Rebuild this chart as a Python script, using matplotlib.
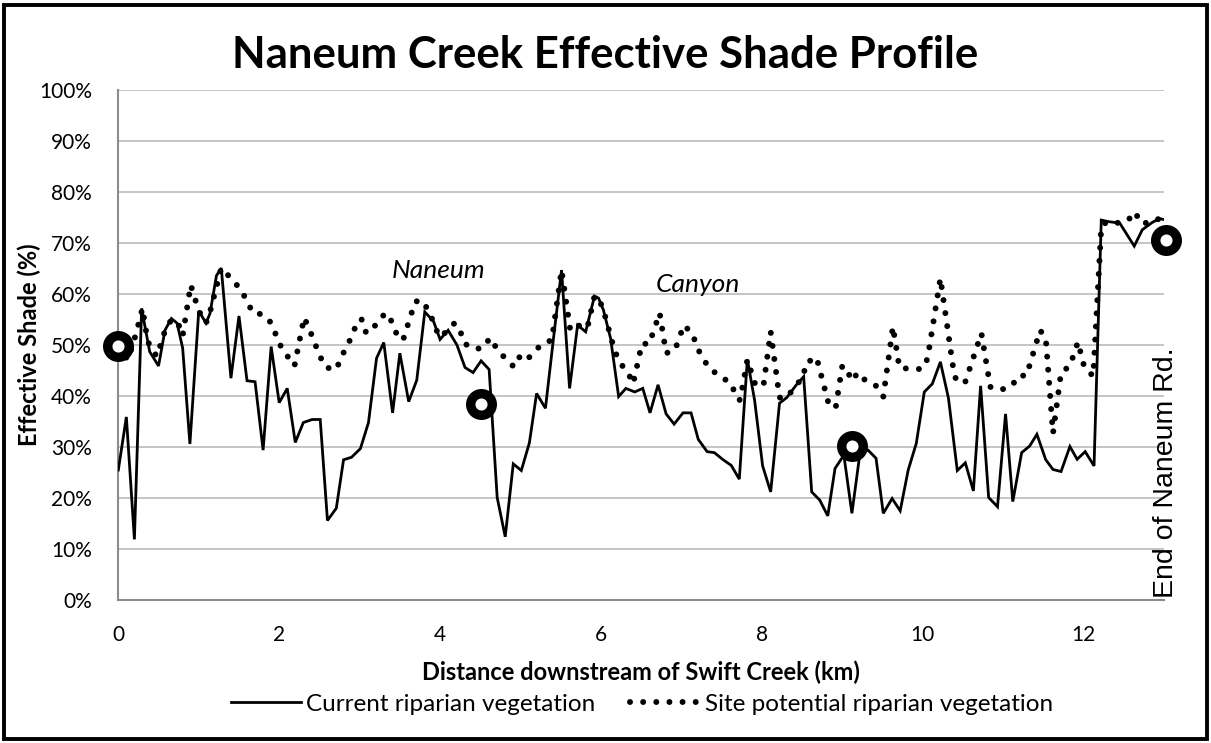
import numpy as np
import matplotlib.pyplot as plt
import matplotlib.patches as mpatches

# fonts: Lato is the closest installed match to the Calibri look
plt.rcParams['font.family'] = ['Lato', 'DejaVu Sans']

# current riparian vegetation (solid line), km downstream / effective shade %
cur_km = [0.00, 0.10, 0.20, 0.29, 0.32, 0.39, 0.50, 0.58, 0.66, 0.73, 0.80, 0.89, 1.00, 1.09, 1.14,
          1.22, 1.28, 1.40, 1.50, 1.60, 1.70, 1.80, 1.90, 2.00, 2.10, 2.20, 2.30, 2.41, 2.51, 2.60,
          2.71, 2.80, 2.90, 3.01, 3.11, 3.21, 3.30, 3.41, 3.50, 3.61, 3.71, 3.81, 3.92, 4.00, 4.10,
          4.21, 4.31, 4.41, 4.51, 4.61, 4.71, 4.81, 4.91, 5.01, 5.11, 5.20, 5.31, 5.41, 5.51, 5.61,
          5.71, 5.81, 5.92, 5.97, 6.03, 6.12, 6.22, 6.31, 6.42, 6.52, 6.61, 6.71, 6.81, 6.91, 7.02,
          7.12, 7.21, 7.32, 7.41, 7.52, 7.62, 7.72, 7.82, 7.91, 8.01, 8.11, 8.22, 8.31, 8.42, 8.52,
          8.62, 8.72, 8.82, 8.91, 9.02, 9.12, 9.22, 9.32, 9.42, 9.51, 9.62, 9.72, 9.82, 9.92, 10.02,
          10.12, 10.22, 10.32, 10.43, 10.53, 10.63, 10.72, 10.82, 10.93, 11.03, 11.12, 11.23, 11.33,
          11.42, 11.53, 11.62, 11.72, 11.83, 11.92, 12.02, 12.13, 12.22, 12.31, 12.45, 12.63, 12.73,
          12.85, 12.94, 13.00]
cur_pct = [25.4, 35.8, 11.8, 57.1, 54.5, 48.6, 45.8, 52.8, 55.1, 54.2, 49.3, 30.5, 56.6, 54.2, 56.1,
           63.5, 65.0, 43.4, 55.6, 42.9, 42.7, 29.3, 49.6, 38.6, 41.4, 30.8, 34.7, 35.3, 35.3, 15.5,
           17.9, 27.4, 27.9, 29.6, 34.7, 47.3, 50.4, 36.6, 48.3, 38.8, 43.0, 56.4, 54.5, 51.0, 52.8,
           49.9, 45.5, 44.5, 46.8, 45.1, 20.0, 12.3, 26.6, 25.3, 30.7, 40.4, 37.5, 51.2, 64.6, 41.4,
           53.8, 52.5, 59.5, 59.1, 56.8, 51.2, 39.8, 41.4, 40.7, 41.4, 36.6, 42.1, 36.4, 34.4, 36.6,
           36.6, 31.4, 29.0, 28.8, 27.4, 26.3, 23.6, 47.1, 39.1, 26.2, 21.1, 38.5, 39.6, 41.9, 43.7,
           21.1, 19.5, 16.4, 25.7, 28.3, 16.9, 28.7, 29.3, 27.7, 16.9, 19.8, 17.4, 25.4, 30.6, 40.7,
           42.3, 46.6, 39.5, 25.3, 26.8, 21.3, 41.9, 20.0, 18.2, 36.4, 19.2, 28.8, 30.1,
           32.4, 27.4, 25.5, 25.1, 30.0, 27.5, 29.0, 26.2, 74.4, 74.1, 73.8, 69.3, 72.5,
           73.9, 74.7, 74.5]

# site potential riparian vegetation (dotted line)
pot_km = [0.00, 0.12, 0.22, 0.30, 0.35, 0.39, 0.48, 0.58, 0.66, 0.74, 0.80, 0.90, 1.00, 1.09, 1.13,
          1.28, 1.40, 1.51, 1.60, 1.67, 1.76, 1.87, 1.94, 2.00, 2.09, 2.19, 2.31, 2.38, 2.44, 2.50,
          2.58, 2.71, 2.77, 2.85, 2.92, 2.97, 3.03, 3.08, 3.15, 3.24, 3.33, 3.42, 3.47, 3.54, 3.69,
          3.77, 3.86, 3.99, 4.08, 4.18, 4.25, 4.30, 4.44, 4.54, 4.62, 4.71, 4.82, 4.92, 5.00, 5.08,
          5.15, 5.25, 5.39, 5.51, 5.62, 5.73, 5.83, 5.92, 5.97, 6.03, 6.17, 6.24, 6.33, 6.40, 6.51,
          6.60, 6.73, 6.81, 6.92, 7.03, 7.14, 7.19, 7.27, 7.36, 7.50, 7.63, 7.68, 7.73, 7.82, 7.92,
          8.02, 8.11, 8.22, 8.31, 8.42, 8.52, 8.54, 8.68, 8.84, 8.92, 9.00, 9.06, 9.11, 9.20, 9.29,
          9.42, 9.51, 9.63, 9.71, 9.84, 9.99, 10.06, 10.22, 10.38, 10.42, 10.53, 10.73, 10.84,
          10.97, 11.11, 11.19, 11.29, 11.46, 11.53, 11.62, 11.72, 11.83, 11.93, 12.01, 12.12,
          12.22, 12.29, 12.46, 12.56, 12.64, 12.71, 12.85, 12.94, 13.00]
pot_pct = [49.5, 47.0, 52.1, 57.1, 52.1, 49.5, 47.7, 52.7, 54.9, 54.3, 51.7, 61.7, 56.6, 54.2, 55.8,
           65.0, 63.0, 61.0, 58.6, 56.2, 56.0, 55.0, 52.7, 50.2, 48.0, 45.8, 55.3, 52.8, 50.4, 47.9,
           45.5, 45.1, 47.5, 49.9, 52.2, 54.7, 54.9, 52.3, 52.7, 54.9, 56.2, 54.0, 51.5, 50.9, 58.4,
           58.7, 56.6, 51.5, 52.5, 54.2, 52.7, 50.2, 49.1, 49.4, 51.3, 49.1, 47.1, 45.6, 47.9, 47.1,
           48.1, 49.9, 50.9, 64.6, 52.7, 53.7, 53.2, 59.5, 59.1, 56.8, 48.8, 46.3, 44.7, 42.3, 50.2,
           50.1, 56.2, 48.3, 48.9, 53.8, 52.1, 49.6, 47.2, 45.1, 43.7, 42.1, 39.5, 39.1, 47.0, 42.1,
           41.9, 52.5, 39.6, 39.6, 41.9, 43.7, 46.3, 47.5, 37.8, 37.8, 45.8, 45.3, 42.9, 44.5, 42.9,
           41.9, 39.8, 53.5, 45.5, 45.2, 45.2, 47.2, 63.0, 45.3, 42.7, 42.7, 52.2, 41.7,
           41.1, 41.9, 43.9, 43.9, 52.8, 51.2, 32.6, 44.5, 45.8, 50.5, 45.5, 43.8,
           73.1, 74.1, 73.8, 74.5, 76.0, 73.8, 73.9, 74.7, 74.5]

# ring markers along the profile
mark_km = [0.0, 4.51, 9.12, 13.03]
mark_pct = [49.8, 38.3, 30.1, 70.5]

y_ticks = [0, 10, 20, 30, 40, 50, 60, 70, 80, 90, 100]
x_ticks = [0, 2, 4, 6, 8, 10, 12]

fig = plt.figure(figsize=(12.11, 7.43), dpi=100)
ax = fig.add_axes([0.0977, 0.1931, 0.8635, 0.6864])

line_cur, = ax.plot(cur_km, cur_pct, color='black', lw=2.0, solid_joinstyle='miter',
                    label='Current riparian vegetation', zorder=3)
line_pot, = ax.plot(pot_km, pot_pct, color='black', lw=4.3, linestyle=(0, (0.001, 2.2)),
                    dash_capstyle='round', label='Site potential riparian vegetation', zorder=3)
ax.plot(mark_km, mark_pct, linestyle='none', marker='o', ms=15.5, mew=6.8,
        mfc='white', mec='black', zorder=5, clip_on=False)

# axes look
ax.set_xlim(0, 13)
ax.set_ylim(0, 100)
ax.set_yticks(y_ticks)
ax.set_yticklabels([f"{v}%" for v in y_ticks])
ax.set_xticks(x_ticks)
ax.tick_params(length=0, labelsize=15, colors='black')
ax.tick_params(axis='y', pad=19)
ax.tick_params(axis='x', pad=18)
ax.grid(axis='y', color='#c0c0c0', lw=1.3)
ax.set_axisbelow(True)
for side in ['top', 'right']:
    ax.spines[side].set_visible(False)
for side in ['left', 'bottom']:
    ax.spines[side].set_color('#8c8c8c')
    ax.spines[side].set_linewidth(1.5)

ax.set_xlabel('Distance downstream of Swift Creek (km)', fontsize=17, fontweight='bold', va='center')
ax.xaxis.set_label_coords(0.5, -(672 - 599.5) / 510)
ax.set_ylabel('Effective Shade (%)', fontsize=17, fontweight='bold')
ax.yaxis.set_label_coords(-(118.3 - 41) / 1045.7, 0.5)
fig.text(0.5, 1 - 55 / 743, 'Naneum Creek Effective Shade Profile', ha='center', va='center',
         fontsize=31.5, fontweight='bold')

# in-plot labels
ax.text(3.98, 64.5, 'Naneum', fontsize=19, style='italic', ha='center', va='center')
ax.text(7.21, 61.7, 'Canyon', fontsize=19, style='italic', ha='center', va='center')
ax.text(13.03, 0.3, 'End of Naneum Rd.', rotation=90, fontsize=20.5, ha='center', va='bottom',
        family=['Liberation Sans', 'DejaVu Sans'])

# legend under the x label
fig.legend(handles=[line_cur, line_pot], loc='center', bbox_to_anchor=(642 / 1211, 1 - 704 / 743),
           ncol=2, frameon=False, fontsize=17.5, handlelength=2.9, handletextpad=0.2,
           columnspacing=1.4)

# outer chart border
fig.patches.append(mpatches.Rectangle((3.5 / 1211, 4.5 / 743), 1203 / 1211, 734 / 743,
                                      transform=fig.transFigure, fill=False, ec='black', lw=2.8))

fig.savefig('out.png', dpi=100)
